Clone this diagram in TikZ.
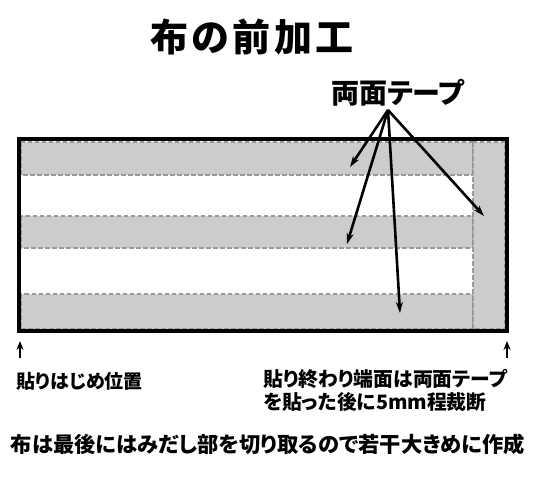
\documentclass[tikz,border=0pt]{standalone}
\usepackage{fontspec}
\setmainfont{Noto Sans CJK JP}[RawFeature=+palt]
\newfontfamily\headfont{Noto Sans CJK JP}[LetterSpace=8]
\usetikzlibrary{arrows.meta,positioning}
\definecolor{Ink}{HTML}{000000}
\definecolor{Tape}{HTML}{CCCCCC}
\definecolor{TapeEdge}{HTML}{999999}
\tikzset{
  cloth/.style={draw=Ink, line width=3.2pt},
  tape/.style={fill=Tape, draw=TapeEdge, line width=1.8pt, dash pattern=on 4.5pt off 2.5pt},
  pointer/.style={-{Stealth[length=11pt,width=7pt]}, line width=2.6pt, draw=Ink},
  marker/.style={-{Stealth[length=9pt,width=7pt]}, line width=2.4pt, draw=Ink},
  heading/.style={font=\headfont\bfseries\fontsize{38}{44}\selectfont, inner sep=0pt},
  callout/.style={font=\bfseries\fontsize{28}{32}\selectfont, inner sep=0pt},
  note/.style={font=\bfseries\fontsize{19}{23}\selectfont, inner sep=0pt, align=left},
  footnote/.style={font=\bfseries\fontsize{21.3}{24}\selectfont, inner sep=0pt}
}
\begin{document}
\begin{tikzpicture}[x=1pt,y=-1pt]
  \useasboundingbox (0,0) rectangle (541,479);
  % titles
  \node[heading] (title) at (252,37) {布の前加工};
  \node[callout] (tapelbl) at (398,93) {両面テープ};
  % tape strips on the cloth
  \draw[tape] (21,142) rectangle (473,175);
  \draw[tape] (21,216) rectangle (473,248);
  \draw[tape] (21,294) rectangle (473,329);
  \draw[tape] (473,142) rectangle (505,329);
  \draw[cloth] (19,139) rectangle (507,331);
  % pointers to the tape
  \coordinate (src) at (388,110);
  \coordinate (t1) at (350,167);
  \coordinate (t2) at (347,244);
  \coordinate (t3) at (400,313);
  \coordinate (t4) at (484,216);
  \foreach \t in {t1,t2,t3,t4}
    \draw[pointer] (src) -- (\t);
  % start and end of the tape
  \coordinate (s0) at (20,358); \coordinate (s1) at (20,341);
  \coordinate (e0) at (507,358); \coordinate (e1) at (507,341);
  \draw[marker] (s0) -- (s1);
  \draw[marker] (e0) -- (e1);
  \node[note,anchor=west] (startlbl) at (16,381) {貼りはじめ位置};
  \node[note,font=\bfseries\fontsize{19.8}{23}\selectfont,anchor=north west] (endlbl) at (263,369) {貼り終わり端面は両面テープ\\を貼った後に5mm程裁断};
  \node[footnote] (foot) at (268,444) {布は最後にはみだし部を切り取るので若干大きめに作成};
\end{tikzpicture}
\end{document}
